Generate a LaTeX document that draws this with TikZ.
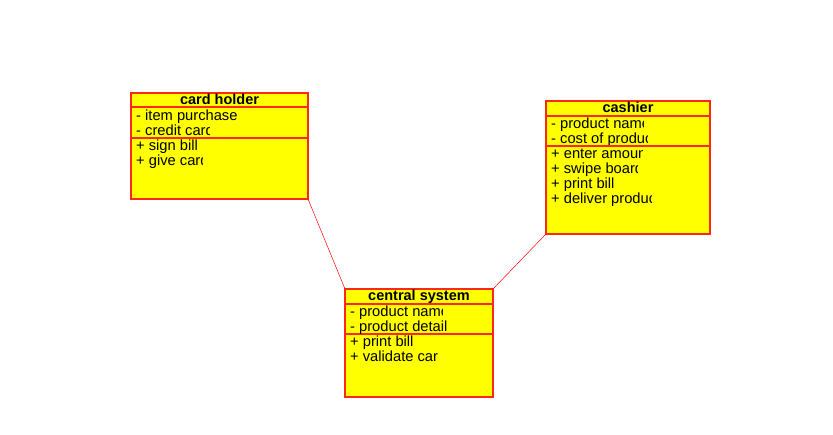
\documentclass[tikz,border=0pt]{standalone}
\usepackage{fontspec}
\setmainfont{Liberation Sans}
\definecolor{umlyellow}{RGB}{255,255,0}
\definecolor{umlred}{RGB}{255,40,20}
\begin{document}
\begin{tikzpicture}[x=1pt,y=-1pt,
  cls/.style={draw=umlred, fill=umlyellow, line width=1.2pt},
  sep/.style={draw=umlred, line width=1.2pt},
  ttl/.style={font=\fontsize{14.5}{14.5}\selectfont\bfseries, inner sep=0pt, anchor=base},
  mem/.style={font=\fontsize{14.7}{14.7}\selectfont, inner sep=0pt, anchor=base west},
  link/.style={draw=red, line width=0.5pt}]
\useasboundingbox (0,0) rectangle (833,435);
% card holder
\draw[cls] (131,93) rectangle (308,199);
\coordinate (chbr) at (308,199);
\draw[sep] (131,107) -- (308,107);
\draw[sep] (131,138) -- (308,138);
\node[ttl] (cht) at (219.5,104.5) {card holder};
\node[mem] (ch1) at (136,121) {- item purchase};
\begin{scope}\clip (133,124) rectangle (209,137);
\node[mem] (ch2) at (136,135.5) {- credit card};\end{scope}
\node[mem] (ch3) at (136,151) {+ sign bill};
\begin{scope}\clip (133,155) rectangle (202,170);
\node[mem] (ch4) at (136,166) {+ give card};\end{scope}
% cashier
\draw[cls] (546,101) rectangle (710,234);
\coordinate (cabl) at (546,234);
\draw[sep] (546,116) -- (710,116);
\draw[sep] (546,146) -- (710,146);
\node[ttl] (cat) at (628,112.5) {cashier};
\begin{scope}\clip (548,117) rectangle (643,132);
\node[mem] (ca1) at (551,129) {- product name};\end{scope}
\begin{scope}\clip (548,132) rectangle (647,145);
\node[mem] (ca2) at (551,144) {- cost of product};\end{scope}
\begin{scope}\clip (548,147) rectangle (642,162);
\node[mem] (ca3) at (551,159) {+ enter amount};\end{scope}
\begin{scope}\clip (548,162) rectangle (637,177);
\node[mem] (ca4) at (551,174) {+ swipe board};\end{scope}
\node[mem] (ca5) at (551,189) {+ print bill};
\begin{scope}\clip (548,192) rectangle (651,207);
\node[mem] (ca6) at (551,204) {+ deliver product};\end{scope}
% central system
\draw[cls] (345,289) rectangle (493,397);
\coordinate (cstl) at (345,289);
\coordinate (cstr) at (493,289);
\draw[sep] (345,304) -- (493,304);
\draw[sep] (345,334) -- (493,334);
\node[ttl] (cst) at (419,300.5) {central system};
\begin{scope}\clip (347,305) rectangle (442,320);
\node[mem] (cs1) at (350,317) {- product name};\end{scope}
\node[mem] (cs2) at (350,332) {- product detail};
\node[mem] (cs3) at (350,347) {+ print bill};
\node[mem] (cs4) at (350,362) {+ validate car};
% links
\draw[link] (chbr) -- (cstl);
\draw[link] (cabl) -- (cstr);
\end{tikzpicture}
\end{document}
